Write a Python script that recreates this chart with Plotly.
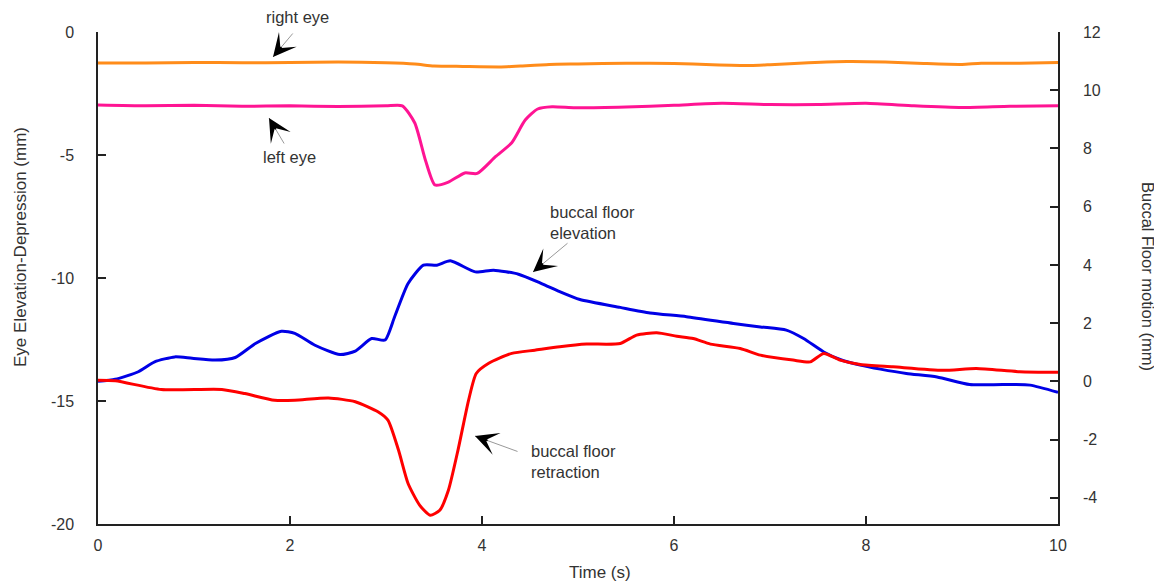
import plotly.graph_objects as go

# ---- data (time in s) ----
t_right_eye = [0, 0.5, 1.0, 1.5, 2.0, 2.5, 3.0, 3.3, 3.5, 3.8, 4.2, 4.4, 4.7, 5.0, 5.5, 6.0, 6.4, 6.8, 7.0, 7.4, 7.8, 8.2, 8.6, 9.0, 9.2, 9.6, 10.0]
right_eye = [-1.26, -1.26, -1.24, -1.25, -1.24, -1.22, -1.25, -1.30, -1.38, -1.40, -1.42, -1.38, -1.32, -1.30, -1.27, -1.28, -1.33, -1.36, -1.33, -1.25, -1.20, -1.22, -1.28, -1.32, -1.27, -1.27, -1.24]

t_left_eye = [0, 0.5, 1.0, 1.5, 2.0, 2.5, 3.0, 3.17, 3.3, 3.41, 3.51, 3.65, 3.82, 3.95, 4.14, 4.31, 4.45, 4.58, 4.73, 4.97, 5.5, 6.0, 6.5, 7.0, 7.5, 8.0, 8.5, 9.0, 9.5, 10.0]
left_eye = [-2.97, -3.0, -2.98, -3.02, -3.0, -3.03, -3.0, -3.0, -3.7, -5.2, -6.22, -6.1, -5.73, -5.75, -5.07, -4.5, -3.58, -3.13, -3.04, -3.08, -3.05, -2.98, -2.9, -2.95, -2.95, -2.9, -3.0, -3.07, -3.02, -3.0]

t_elev = [0, 0.18, 0.42, 0.59, 0.80, 0.98, 1.22, 1.43, 1.64, 1.91, 2.05, 2.26, 2.52, 2.68, 2.85, 2.99, 3.09, 3.23, 3.39, 3.53, 3.67, 3.93, 4.12, 4.38, 4.62, 4.81, 5.02, 5.44, 5.75, 6.13, 6.62, 6.90, 7.17, 7.35, 7.56, 7.73, 7.94, 8.15, 8.42, 8.74, 9.08, 9.43, 9.71, 10.0]
elevation = [0.0, 0.07, 0.33, 0.67, 0.84, 0.79, 0.73, 0.82, 1.30, 1.72, 1.65, 1.24, 0.92, 1.04, 1.47, 1.42, 2.22, 3.36, 3.99, 3.99, 4.14, 3.76, 3.82, 3.68, 3.36, 3.08, 2.81, 2.54, 2.35, 2.22, 1.99, 1.87, 1.76, 1.47, 1.01, 0.75, 0.56, 0.42, 0.27, 0.15, -0.11, -0.11, -0.13, -0.38]

t_retr = [0, 0.18, 0.66, 1.29, 1.53, 1.84, 2.05, 2.40, 2.68, 2.92, 3.02, 3.13, 3.23, 3.35, 3.46, 3.56, 3.65, 3.75, 3.86, 3.94, 4.07, 4.31, 4.55, 4.81, 5.09, 5.44, 5.61, 5.82, 6.03, 6.20, 6.38, 6.69, 6.90, 7.24, 7.42, 7.56, 7.73, 7.94, 8.28, 8.80, 9.15, 9.60, 10.0]
retraction = [0.04, 0.02, -0.28, -0.28, -0.42, -0.65, -0.65, -0.57, -0.70, -1.05, -1.33, -2.36, -3.51, -4.25, -4.60, -4.43, -3.74, -2.36, -0.65, 0.27, 0.62, 0.96, 1.07, 1.19, 1.28, 1.30, 1.59, 1.67, 1.55, 1.47, 1.28, 1.13, 0.90, 0.73, 0.67, 0.96, 0.73, 0.58, 0.50, 0.38, 0.44, 0.33, 0.31]

left_tickvals = [0, -5, -10, -15, -20]
left_ticktext = ["0", "-5", "-10", "-15", "-20"]
right_tickvals = [12, 10, 8, 6, 4, 2, 0, -2, -4]
right_ticktext = ["12", "10", "8", "6", "4", "2", "0", "-2", "-4"]
x_ticks = [0, 2, 4, 6, 8, 10]

FONT = "Liberation Sans, Arial, sans-serif"
TXT = "#333333"

# plot area in page pixels (page has an 8px body margin)
PX0, PX1, PY0, PY1 = 98, 1058, 32, 524


def px(x):
    return (x - PX0) / (PX1 - PX0)


def py(y):
    return (PY1 - y) / (PY1 - PY0)


fig = go.Figure()
fig.add_trace(go.Scatter(x=t_right_eye, y=right_eye, mode="lines", line=dict(color="#ff8c1a", width=3, shape="spline", smoothing=0.6), name="right eye"))
fig.add_trace(go.Scatter(x=t_left_eye, y=left_eye, mode="lines", line=dict(color="#ff1493", width=3, shape="spline", smoothing=0.6), name="left eye"))
fig.add_trace(go.Scatter(x=t_elev, y=elevation, mode="lines", yaxis="y2", line=dict(color="#0000e6", width=3, shape="spline", smoothing=0.6), name="buccal floor elevation"))
fig.add_trace(go.Scatter(x=t_retr, y=retraction, mode="lines", yaxis="y2", line=dict(color="#ff0000", width=3, shape="spline", smoothing=0.6), name="buccal floor retraction"))

# labels: (text, page x, page y, xanchor)
labels = [
    ("right eye", 297, 17, "center"),
    ("left eye", 289, 157, "center"),
    ("buccal floor<br>elevation", 548, 222, "left"),
    ("buccal floor<br>retraction", 529, 461, "left"),
]
# arrows: (tip x, tip y, tail x, tail y) in page pixels
arrows = [
    (273, 57, 294, 32),
    (269, 118, 285, 145),
    (533, 272, 569, 242),
    (475, 436, 519, 452),
]
for txt, x, y, xa in labels:
    fig.add_annotation(x=px(x), y=py(y), xref="paper", yref="paper", text=txt, showarrow=False,
                       xanchor=xa, yanchor="middle", align="left",
                       font=dict(family=FONT, size=16.5, color=TXT))
for x, y, x2, y2 in arrows:
    dx, dy = x2 - x, y2 - y
    fig.add_annotation(x=px(x), y=py(y), xref="paper", yref="paper", ax=dx, ay=dy, text="",
                       showarrow=True, arrowhead=0, arrowwidth=1, arrowcolor="#999999")
    n = (dx * dx + dy * dy) ** 0.5
    fig.add_annotation(x=px(x), y=py(y), xref="paper", yref="paper", ax=dx / n * 15, ay=dy / n * 15,
                       text="", showarrow=True, arrowhead=3, arrowsize=2.4, arrowwidth=1.6,
                       arrowcolor="#000000")

# axis titles
fig.add_annotation(x=px(20), y=py(247), xref="paper", yref="paper", text="Eye Elevation-Depression (mm)",
                   showarrow=False, textangle=-90, xanchor="center", yanchor="middle",
                   font=dict(family=FONT, size=17, color=TXT))
fig.add_annotation(x=px(1148), y=py(276), xref="paper", yref="paper", text="Buccal Floor motion (mm)",
                   showarrow=False, textangle=90, xanchor="center", yanchor="middle",
                   font=dict(family=FONT, size=16.5, color=TXT))
fig.add_annotation(x=px(600), y=py(572), xref="paper", yref="paper", text="Time (s)",
                   showarrow=False, xanchor="center", yanchor="middle",
                   font=dict(family=FONT, size=17, color=TXT))

axis_common = dict(showline=True, linecolor="#222222", linewidth=1.5, ticks="inside", ticklen=8,
                   tickcolor="#222222", tickwidth=1.5, showgrid=False, zeroline=False,
                   tickfont=dict(family=FONT, size=16, color=TXT))

fig.update_layout(
    width=1154, height=573,
    margin=dict(l=90, r=104, t=24, b=57, autoexpand=False),
    paper_bgcolor="white", plot_bgcolor="white",
    showlegend=False,
    font=dict(family=FONT, color=TXT),
    xaxis=dict(range=[0, 10], tickvals=x_ticks, ticklabelstandoff=6, **axis_common),
    yaxis=dict(range=[-20, 0], tickvals=left_tickvals, ticktext=left_ticktext, ticklabelstandoff=19, **axis_common),
    yaxis2=dict(range=[-4.9, 12], tickvals=right_tickvals, ticktext=right_ticktext, overlaying="y", side="right",
                ticklabelstandoff=20, **axis_common),
)

fig.write_html("out.html")
